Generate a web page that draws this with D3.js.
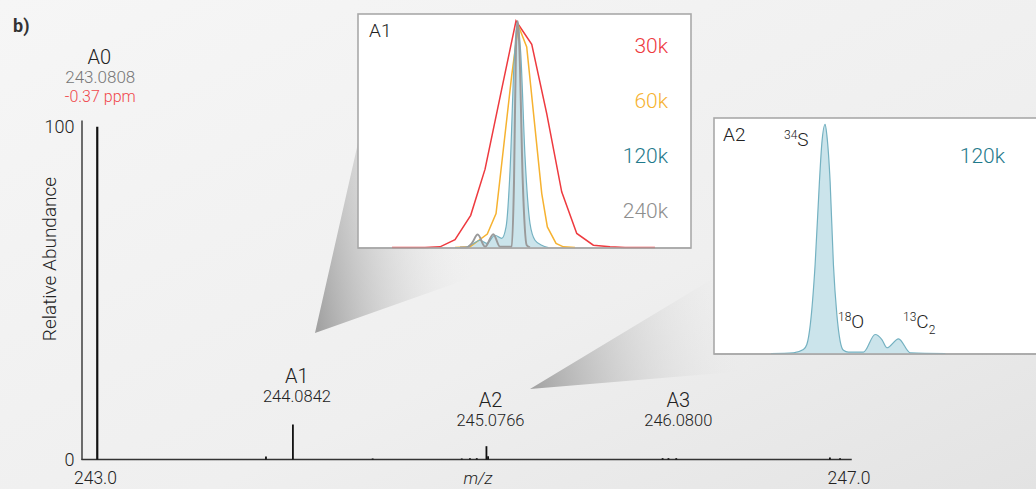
<!DOCTYPE html>
<html lang="en">
<head>
<meta charset="UTF-8" />
<title>Isotope fine structure</title>
<script src="https://d3js.org/d3.v7.min.js"></script>
<style>
  body { margin: 0; background: #eee; }
  svg text { font-family: Roboto, "Liberation Sans", sans-serif; font-weight: 300; }
</style>
</head>
<body>
<script>
// main spectrum: m/z and relative abundance of each centroid
var peakMz  = [243.0808, 243.946, 244.0842, 244.493, 244.950, 244.992, 245.027, 245.0766, 245.085, 245.98, 246.01, 246.05, 246.838, 246.89];
var peakInt = [100, 0.9, 10.5, 0.3, 0.3, 0.4, 0.4, 4.0, 1.0, 0.4, 0.4, 0.4, 0.6, 0.4];

// labelled isotopologues
var isoNames = ["A1", "A2", "A3"];
var isoMz    = ["244.0842", "245.0766", "246.0800"];
var isoPos   = [244.0842, 245.0766, 246.04];

var xTicks = [243.0, 247.0];
var yTicks = [0, 100];

// inset A1: profiles of A1 at four resolutions (offset in mDa, % of apex)
var resLabels = ["30k", "60k", "120k", "240k"];
var r30x  = [-17.9, -13.2, -11.04, -8.9, -6.66, -4.61, -2.23, -0.19, 2.06, 4.2, 6.34, 8.49, 10.86, 13.24, 15.39, 19.66];
var r30y  = [0, 0, 0.3, 3.5, 14.2, 34.6, 69.9, 100, 89.7, 59.1, 24.6, 6.2, 1.0, 0.3, 0, 0];
var r60x  = [-8.9, -6.76, -4.29, -3.04, -0.8, 0.14, 1.34, 3.49, 4.29, 5.53, 6.57, 8.24];
var r60y  = [0, 0.3, 5.9, 15, 76, 98, 88.5, 23.8, 9.1, 1.8, 0.3, 0];
var r120x = [-8.9, -7.47, -6.29, -5.33, -4.37, -3.19, -2.23, -1.61, -1.04, -0.47, 0, 0.49, 1.1, 1.81, 2.53, 3.49, 4.43];
var r120y = [0, 0, 1.8, 3.2, 1.8, 5.4, 4.0, 9.1, 34, 81, 100, 85.6, 40, 10.6, 3.2, 1.0, 0];
var r240x = [-8.19, -7.23, -6.51, -5.66, -4.61, -3.43, -2.47, -0.8, -0.47, -0.19, 0.06, 0.29, 0.77, 1.34, 1.81];
var r240y = [0, 0, 1.8, 5.7, 0.3, 5.9, 0.3, 0.3, 29.7, 88.5, 100, 88.5, 29.7, 1.0, 0];

// inset A2: fine structure at 120k (offset in mDa from 34S)
var a2x = [-9, -5.28, -3.62, -3.05, -2.47, -1.67, -0.95, -0.55, 0, 0.28, 0.83, 1.38, 1.95, 2.5, 3.05, 3.88, 6.38, 8.33, 9.45, 10.28, 12.22, 14.17, 20];
var a2y = [0, 0.3, 1.7, 3.9, 12.6, 38.7, 75, 91.7, 100, 95.4, 75, 38.7, 17, 5.4, 1.4, 0.6, 0.6, 8.3, 6.1, 2.5, 6.4, 0.3, 0];

var W = 1036, H = 489;
var red = "#ee3a3f", orange = "#f6b230", teal = "#1f7a8c", gray = "#9a9a9a";
var fillBlue = "#cbe4eb", strokeBlue = "#74b1c1";

var svg = d3.select("body").append("svg")
    .attr("width", W)
    .attr("height", H);

var defs = svg.append("defs");
var bg = defs.append("linearGradient").attr("id", "bg")
    .attr("x1", 0).attr("y1", 0).attr("x2", 1).attr("y2", 1);
bg.append("stop").attr("offset", 0).attr("stop-color", "#f6f6f6");
bg.append("stop").attr("offset", 0.6).attr("stop-color", "#efefef");
bg.append("stop").attr("offset", 1).attr("stop-color", "#e3e3e3");

function wedgeGrad(id, x1, y1, x2, y2) {
    var g = defs.append("linearGradient").attr("id", id)
        .attr("gradientUnits", "userSpaceOnUse")
        .attr("x1", x1).attr("y1", y1).attr("x2", x2).attr("y2", y2);
    g.append("stop").attr("offset", 0).attr("stop-color", "#999").attr("stop-opacity", 0.9);
    g.append("stop").attr("offset", 1).attr("stop-color", "#f2f2f2").attr("stop-opacity", 0);
}
wedgeGrad("w1", 315, 310, 480, 280);
wedgeGrad("w2", 530, 380, 750, 330);

svg.append("rect").attr("width", W).attr("height", H).attr("fill", "url(#bg)");

// ---- main spectrum ----
var x = d3.scaleLinear().domain([243, 247]).range([81.5, 861.5]);
var xLab = d3.scaleLinear().domain([243, 247]).range([95, 848.5]);
var y = d3.scaleLinear().domain([0, 102]).range([459.5, 120]);

// zoom wedges
svg.append("path")
    .attr("d", "M315,333L358,143L358,248L555,248Z")
    .attr("fill", "url(#w1)");
svg.append("path")
    .attr("d", "M530,389L714,278L714,354L950,354Z")
    .attr("fill", "url(#w2)");

var yAxis = svg.append("g")
    .attr("transform", "translate(" + x(243) + ",0)")
    .call(d3.axisLeft(y).tickValues(yTicks).tickSize(0).tickPadding(7).tickFormat(d3.format("d")));
yAxis.select(".domain").attr("stroke", "#333").attr("stroke-width", 1.4);
yAxis.selectAll("text").attr("font-size", 18).attr("fill", "#222").attr("font-family", null);

svg.append("line")
    .attr("x1", x(243)).attr("x2", x(246.95))
    .attr("y1", y(0)).attr("y2", y(0))
    .attr("stroke", "#333").attr("stroke-width", 1.6);

var xAxis = svg.append("g")
    .attr("transform", "translate(0," + y(0) + ")")
    .call(d3.axisBottom(xLab).tickValues(xTicks).tickSize(0).tickPadding(12).tickFormat(d3.format(".1f")));
xAxis.select(".domain").remove();
xAxis.selectAll("text").attr("font-size", 17.5).attr("fill", "#222").attr("font-family", null);

svg.append("text")
    .attr("x", 478).attr("y", 484)
    .attr("text-anchor", "middle")
    .attr("font-size", 17).attr("font-style", "italic").attr("fill", "#222")
    .text("m/z");

svg.append("text")
    .attr("transform", "translate(56,259) rotate(-90)")
    .attr("text-anchor", "middle")
    .attr("font-size", 19).attr("fill", "#222")
    .text("Relative Abundance");

svg.selectAll(".peak")
    .data(peakMz)
    .enter()
    .append("line")
    .attr("class", "peak")
    .attr("x1", function(d) { return x(d); })
    .attr("x2", function(d) { return x(d); })
    .attr("y1", y(0))
    .attr("y2", function(d, i) { return y(peakInt[i]); })
    .attr("stroke", "#111")
    .attr("stroke-width", function(d, i) { return i == 0 ? 2.2 : 1.8; });

svg.append("text").attr("x", 13).attr("y", 32)
    .attr("font-size", 18).attr("fill", "#333")
    .style("font-weight", 700)
    .text("b)");

// A0 annotation
svg.append("text").attr("x", x(243.0808) + 2).attr("y", 64)
    .attr("text-anchor", "middle").attr("font-size", 20).attr("fill", "#222").text("A0");
svg.append("text").attr("x", x(243.0808) + 3).attr("y", 83)
    .attr("text-anchor", "middle").attr("font-size", 17).attr("fill", "#777").text("243.0808");
svg.append("text").attr("x", x(243.0808) + 3).attr("y", 102)
    .attr("text-anchor", "middle").attr("font-size", 16).attr("fill", "#f0474b").text("-0.37 ppm");

var iso = svg.selectAll(".iso")
    .data(isoNames)
    .enter()
    .append("g")
    .attr("class", "iso")
    .attr("transform", function(d, i) {
        return "translate(" + (x(isoPos[i]) + 4) + "," + (i == 0 ? 383 : 407) + ")";
    });
iso.append("text").attr("text-anchor", "middle").attr("font-size", 20).attr("fill", "#222")
    .text(function(d) { return d; });
iso.append("text").attr("text-anchor", "middle").attr("y", function(d, i) { return i == 0 ? 18.5 : 19; })
    .attr("font-size", 16.5).attr("fill", "#222")
    .text(function(d, i) { return isoMz[i]; });

// ---- inset A1 ----
var b1 = { x0: 358, x1: 691, y0: 14, y1: 248 };
svg.append("rect")
    .attr("x", b1.x0).attr("y", b1.y0)
    .attr("width", b1.x1 - b1.x0).attr("height", b1.y1 - b1.y0)
    .attr("fill", "#fff").attr("stroke", "#a9a9a9").attr("stroke-width", 1.6);

var x1 = d3.scaleLinear().domain([-22.76, 24.81]).range([b1.x0, b1.x1]);
var y1 = d3.scaleLinear().domain([0, 100]).range([b1.y1 - 0.5, 21]);

function prof(xs, ys, xs_, ys_, curve) {
    return d3.line()
        .x(function(d, i) { return xs_(xs[i]); })
        .y(function(d, i) { return ys_(ys[i]); })
        .curve(curve)(xs);
}
function area(xs, ys, xs_, ys_, base, curve) {
    return d3.area()
        .x(function(d, i) { return xs_(xs[i]); })
        .y0(base)
        .y1(function(d, i) { return ys_(ys[i]); })
        .curve(curve)(xs);
}

svg.append("path").attr("d", area(r120x, r120y, x1, y1, y1(0), d3.curveMonotoneX))
    .attr("fill", fillBlue);
svg.append("path").attr("d", prof(r30x, r30y, x1, y1, d3.curveLinear))
    .attr("fill", "none").attr("stroke", red).attr("stroke-width", 1.5);
svg.append("path").attr("d", prof(r60x, r60y, x1, y1, d3.curveLinear))
    .attr("fill", "none").attr("stroke", orange).attr("stroke-width", 1.5);
svg.append("path").attr("d", prof(r120x, r120y, x1, y1, d3.curveMonotoneX))
    .attr("fill", "none").attr("stroke", strokeBlue).attr("stroke-width", 1.2);
svg.append("path").attr("d", prof(r240x, r240y, x1, y1, d3.curveMonotoneX))
    .attr("fill", "none").attr("stroke", gray).attr("stroke-width", 2);

svg.append("line")
    .attr("x1", b1.x0).attr("x2", b1.x1).attr("y1", b1.y1).attr("y2", b1.y1)
    .attr("stroke", "#a9a9a9").attr("stroke-width", 1.6);

svg.append("text").attr("x", 369).attr("y", 37)
    .attr("font-size", 19).attr("fill", "#222").text("A1");

var resColors = [red, orange, teal, "#8e8e8e"];
svg.selectAll(".res")
    .data(resLabels)
    .enter()
    .append("text")
    .attr("class", "res")
    .attr("x", 668)
    .attr("y", function(d, i) { return 53 + i * 55; })
    .attr("text-anchor", "end")
    .attr("font-size", 21)
    .attr("fill", function(d, i) { return resColors[i]; })
    .text(function(d) { return d; });

// ---- inset A2 ----
var b2 = { x0: 714, x1: 1042, y0: 118, y1: 354 };
svg.append("rect")
    .attr("x", b2.x0).attr("y", b2.y0)
    .attr("width", b2.x1 - b2.x0).attr("height", b2.y1 - b2.y0)
    .attr("fill", "#fff").attr("stroke", "#a9a9a9").attr("stroke-width", 1.6);

var x2 = d3.scaleLinear().domain([-18.5, 36.1]).range([b2.x0, b2.x1]);
var y2 = d3.scaleLinear().domain([0, 100]).range([b2.y1 - 0.5, 124.3]);

svg.append("path").attr("d", area(a2x, a2y, x2, y2, y2(0), d3.curveMonotoneX))
    .attr("fill", fillBlue);
svg.append("path").attr("d", prof(a2x, a2y, x2, y2, d3.curveMonotoneX))
    .attr("fill", "none").attr("stroke", strokeBlue).attr("stroke-width", 1.2);
svg.append("line")
    .attr("x1", b2.x0).attr("x2", b2.x1).attr("y1", b2.y1).attr("y2", b2.y1)
    .attr("stroke", "#a9a9a9").attr("stroke-width", 1.6);

svg.append("text").attr("x", 723).attr("y", 141)
    .attr("font-size", 19).attr("fill", "#222").text("A2");
svg.append("text").attr("x", 1005).attr("y", 163)
    .attr("text-anchor", "end").attr("font-size", 21).attr("fill", teal).text("120k");

function iso2(xx, yy, sup, main, sub) {
    var t = svg.append("text").attr("x", xx).attr("y", yy).attr("font-size", 19).attr("fill", "#222");
    t.append("tspan").attr("font-size", 12).attr("dy", -7).text(sup);
    t.append("tspan").attr("dy", 7).text(main);
    if (sub) t.append("tspan").attr("font-size", 12).attr("dy", 6).text(sub);
}
iso2(784, 146, "34", "S");
iso2(838, 328, "18", "O");
iso2(903, 328, "13", "C", "2");
</script>
</body>
</html>
